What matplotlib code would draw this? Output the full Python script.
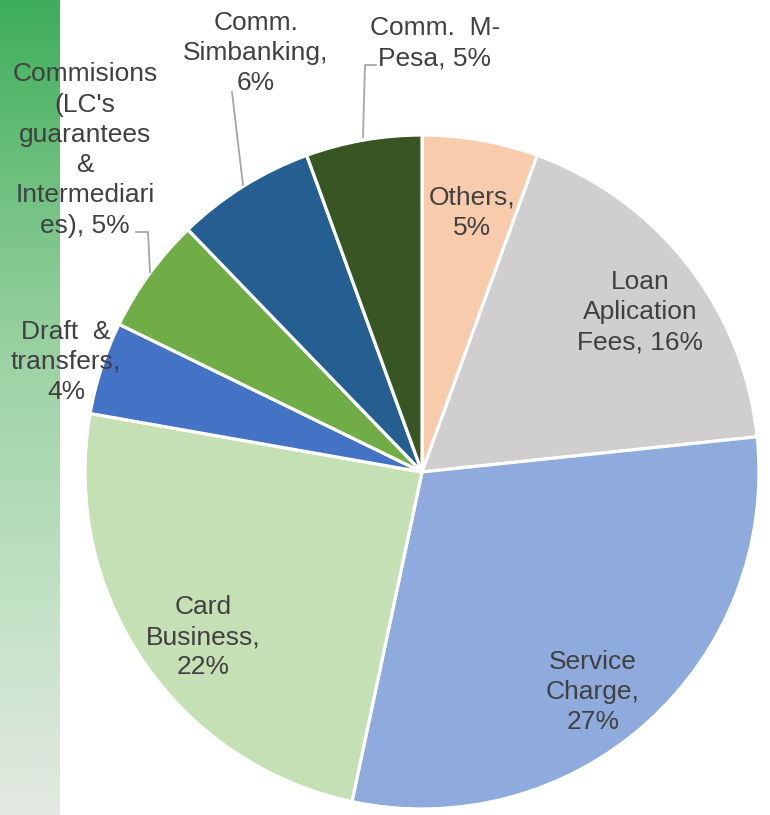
import numpy as np
import matplotlib.pyplot as plt
from matplotlib.colors import LinearSegmentedColormap

plt.rcParams['font.family'] = ['Liberation Sans', 'DejaVu Sans']

categories = ['Others', 'Loan\nAplication\nFees', 'Service\nCharge', 'Card\nBusiness',
              'Draft  &\ntransfers', "Commisions\n(LC's\nguarantees\n&\nIntermediari\nes)",
              'Comm.\nSimbanking', 'Comm.  M-\nPesa']
values = [5, 16, 27, 22, 4, 5, 6, 5]
colors = ['#F8CBAD', '#D0CECE', '#8FAADC', '#C5E0B4', '#4472C4', '#70AD47', '#255E91', '#375623']

# label text joins: ", " inline or newline before percent
pct_sep = [',\n', ', ', ',\n', ',\n', ',\n', ', ', ',\n', ', ']
# label positions (image pixels, y down)
label_xy = [(472, 213), (640, 312), (593, 692), (203, 637), (66, 362),
            (85, 150), (256, 53), (435, 43)]

W, H = 770, 815
fig = plt.figure(figsize=(W / 100, H / 100), dpi=100)
ax = fig.add_axes([0, 0, 1, 1])

# green gradient strip on the left
cmap = LinearSegmentedColormap.from_list('strip', [(0, '#3fae5a'), (0.45, '#9ed3a5'),
                                                   (0.75, '#c3e2c6'), (1, '#e4e9e2')])
grad = np.linspace(0, 1, 256).reshape(-1, 1)
ax.imshow(grad, cmap=cmap, extent=[0, 60, 0, H], aspect='auto', origin='upper', zorder=0)

cx, cy, R = 422, H - 472, 337
ax.pie(values, colors=colors, startangle=90, counterclock=False, center=(cx, cy), radius=R,
       wedgeprops=dict(edgecolor='white', linewidth=2.3), frame=True)
ax.set_xlim(0, W)
ax.set_ylim(0, H)
ax.set_aspect('equal')
ax.axis('off')

for cat, v, sep, (x, y) in zip(categories, values, pct_sep, label_xy):
    ax.text(x, H - y, f'{cat}{sep}{v}%', ha='center', va='center', fontsize=19,
            color='#404040', linespacing=1.33, zorder=5)

# leader lines for outside labels
lc = dict(color='#a6a6a6', lw=1.3, zorder=4)
ax.plot([136, 148, 150], [H - 232, H - 232, H - 272], **lc)
ax.plot([232, 243], [H - 92, H - 185], **lc)
ax.plot([376, 365, 363], [H - 65, H - 65, H - 137], **lc)

fig.savefig('out.png', dpi=100)
